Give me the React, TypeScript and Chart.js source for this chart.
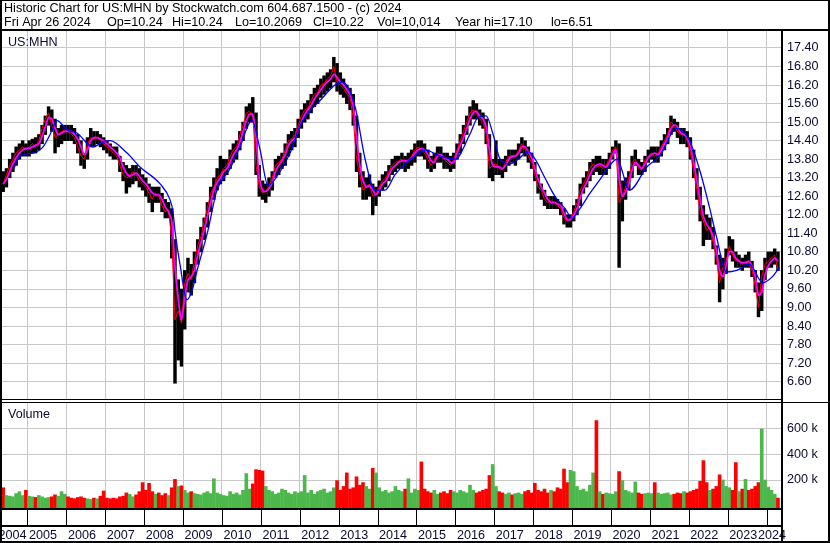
import React, { useEffect, useRef } from "react";
import { Chart, registerables } from "chart.js";
Chart.register(...registerables);

// ---------- data (monthly, May 2004 .. Apr 2024) ----------
const START_YEAR = 2004;
const START_MONTH = 5;

const HIGH = [
  13.4, 13.5, 13.8, 14.0, 14.2, 14.3, 14.4, 14.3,
  14.4, 14.45, 14.5, 14.6, 14.9, 15.2, 15.5, 15.4, 15.1, 14.8, 14.9, 14.9,
  14.9, 14.9, 14.8, 14.6, 14.4, 14.0, 14.5, 14.8, 14.7, 14.7, 14.6, 14.5,
  14.4, 14.3, 14.2, 14.2, 13.9, 13.7, 13.6, 13.5, 13.6, 13.6, 13.5, 13.3,
  13.2, 13.0, 12.9, 12.9, 12.9, 12.7, 12.5, 12.4, 12.2, 11.2, 9.9, 9.6,
  10.2, 10.6, 10.4, 10.8, 11.2, 11.6, 11.9, 12.4, 12.9, 13.2, 13.5, 13.9,
  13.8, 13.8, 14.1, 14.3, 14.4, 14.7, 15.0, 15.5, 15.6, 15.8, 15.3, 13.6,
  13.1, 13.0, 13.2, 13.4, 13.8, 13.9, 14.0, 14.3, 14.6, 14.7, 14.8, 15.1,
  15.4, 15.6, 15.7, 15.9, 16.1, 16.2, 16.4, 16.5, 16.6, 16.7, 17.1, 16.9,
  16.6, 16.4, 16.2, 16.1, 15.9, 15.2, 14.0, 13.4, 13.2, 13.3, 13.0, 12.9,
  13.1, 13.3, 13.4, 13.6, 13.8, 13.9, 13.9, 14.0, 13.9, 14.0, 14.1, 14.3,
  14.4, 14.4, 14.3, 14.1, 13.9, 14.0, 14.2, 14.2, 14.0, 14.0, 13.9, 14.0,
  14.3, 14.6, 14.9, 15.2, 15.5, 15.7, 15.6, 15.4, 15.3, 15.1, 14.6, 13.8,
  14.4, 13.8, 13.8, 13.9, 14.1, 14.1, 14.1, 14.3, 14.5, 14.4, 14.2, 14.0,
  13.7, 13.3, 13.0, 12.8, 12.6, 12.6, 12.6, 12.5, 12.4, 12.2, 12.0, 12.0,
  12.3, 12.5, 13.0, 13.2, 13.4, 13.7, 13.8, 13.9, 13.9, 13.8, 13.8, 14.0,
  14.2, 14.4, 14.3, 13.1, 13.2, 13.4, 13.9, 14.1, 13.8, 13.7, 13.9, 14.1,
  14.2, 14.2, 14.2, 14.4, 14.6, 14.8, 15.2, 15.1, 15.0, 14.8, 14.8, 14.7,
  14.5, 14.1, 13.5, 12.9, 12.3, 12.0, 11.9, 11.6, 11.0, 10.7, 10.6, 10.9,
  11.3, 11.2, 10.8, 10.7, 10.6, 10.7, 10.8, 10.5, 10.2, 9.8, 10.2, 10.6,
  10.8, 10.8, 10.9, 10.8,
];

const LOW = [
  12.75, 12.9, 13.2, 13.4, 13.6, 13.8, 13.9, 13.9,
  13.9, 14.0, 14.0, 14.1, 14.3, 14.6, 14.9, 14.7, 14.0, 14.2, 14.3, 14.4,
  14.4, 14.4, 14.3, 14.0, 13.6, 13.5, 13.8, 14.2, 14.2, 14.3, 14.2, 14.1,
  14.0, 13.9, 13.8, 13.8, 13.4, 13.1, 12.7, 12.9, 13.0, 13.1, 12.9, 12.8,
  12.6, 12.4, 12.1, 12.4, 12.4, 12.1, 11.9, 11.9, 10.6, 6.55, 7.3, 7.1,
  8.3, 9.5, 9.4, 9.8, 10.4, 10.8, 11.2, 11.6, 12.1, 12.5, 12.8, 13.0,
  13.1, 13.3, 13.5, 13.7, 13.8, 14.1, 14.4, 14.8, 15.0, 15.0, 13.3, 12.6,
  12.5, 12.4, 12.6, 12.8, 13.2, 13.3, 13.5, 13.6, 13.9, 14.1, 14.2, 14.5,
  14.8, 15.0, 15.1, 15.3, 15.5, 15.6, 15.8, 15.9, 16.0, 16.1, 16.3, 16.0,
  15.9, 15.8, 15.6, 15.4, 14.9, 13.4, 12.9, 12.5, 12.5, 12.6, 12.0, 12.3,
  12.6, 12.8, 12.9, 13.1, 13.3, 13.4, 13.5, 13.5, 13.4, 13.5, 13.6, 13.7,
  13.9, 13.9, 13.8, 13.5, 13.4, 13.5, 13.7, 13.7, 13.5, 13.5, 13.4, 13.5,
  13.8, 14.0, 14.3, 14.6, 14.9, 15.1, 15.1, 14.9, 14.8, 14.3, 13.2, 13.1,
  13.3, 13.3, 13.2, 13.4, 13.6, 13.7, 13.6, 13.8, 14.0, 13.9, 13.7, 13.5,
  13.1, 12.7, 12.5, 12.3, 12.2, 12.2, 12.2, 12.2, 12.0, 11.7, 11.6, 11.6,
  11.8, 12.0, 12.3, 12.7, 12.9, 13.1, 13.3, 13.4, 13.3, 13.3, 13.3, 13.5,
  13.8, 14.0, 10.3, 11.8, 12.5, 12.8, 13.2, 13.6, 13.3, 13.3, 13.4, 13.7,
  13.8, 13.7, 13.7, 13.9, 14.1, 14.3, 14.6, 14.7, 14.5, 14.3, 14.3, 14.2,
  13.8, 13.2, 12.5, 11.8, 11.0, 11.2, 11.2, 10.9, 10.4, 9.18, 9.6, 10.1,
  10.7, 10.5, 10.3, 10.3, 10.2, 10.3, 10.3, 10.0, 9.5, 8.7, 8.9, 9.9,
  10.3, 10.3, 10.4, 10.2,
];

const CLOSE = [
  13.0, 13.3, 13.6, 13.8, 14.0, 14.1, 14.2, 14.1,
  14.2, 14.3, 14.2, 14.4, 14.8, 15.1, 15.3, 14.9, 14.5, 14.6, 14.7, 14.75,
  14.7, 14.6, 14.5, 14.2, 13.9, 13.8, 14.3, 14.5, 14.45, 14.5, 14.4, 14.3,
  14.2, 14.1, 14.0, 13.9, 13.6, 13.3, 13.2, 13.25, 13.4, 13.3, 13.1, 13.0,
  12.9, 12.7, 12.5, 12.7, 12.6, 12.3, 12.1, 12.15, 11.2, 8.6, 8.9, 8.5,
  9.8, 10.1, 9.9, 10.5, 11.0, 11.3, 11.8, 12.2, 12.7, 12.9, 13.2, 13.3,
  13.5, 13.6, 13.9, 14.1, 14.2, 14.6, 14.9, 15.3, 15.35, 15.2, 13.6, 12.9,
  12.7, 12.8, 12.9, 13.2, 13.6, 13.7, 13.8, 14.1, 14.4, 14.45, 14.6, 14.9,
  15.2, 15.4, 15.45, 15.7, 15.9, 15.95, 16.2, 16.25, 16.4, 16.5, 16.8, 16.3,
  16.2, 16.1, 15.9, 15.8, 15.1, 13.8, 13.3, 12.8, 12.9, 13.0, 12.6, 12.65,
  12.9, 13.1, 13.2, 13.4, 13.6, 13.7, 13.75, 13.8, 13.7, 13.8, 13.9, 14.1,
  14.2, 14.1, 14.0, 13.8, 13.6, 13.8, 14.0, 13.9, 13.8, 13.7, 13.6, 13.8,
  14.1, 14.4, 14.7, 15.0, 15.3, 15.4, 15.3, 15.1, 15.0, 14.6, 13.5, 13.6,
  13.65, 13.5, 13.45, 13.7, 13.9, 13.85, 13.9, 14.1, 14.3, 14.1, 13.9, 13.7,
  13.3, 12.9, 12.8, 12.5, 12.4, 12.45, 12.4, 12.3, 12.2, 11.9, 11.8, 11.9,
  12.1, 12.4, 12.8, 13.0, 13.2, 13.5, 13.65, 13.55, 13.6, 13.5, 13.6, 13.8,
  14.1, 14.2, 12.4, 12.6, 12.9, 13.2, 13.7, 13.8, 13.5, 13.45, 13.8, 13.9,
  14.0, 13.9, 14.0, 14.2, 14.4, 14.6, 15.0, 14.9, 14.7, 14.6, 14.65, 14.4,
  14.0, 13.4, 12.8, 12.1, 11.8, 11.5, 11.6, 11.1, 10.6, 9.8, 10.3, 10.5,
  11.0, 10.7, 10.5, 10.55, 10.4, 10.5, 10.45, 10.2, 9.7, 9.0, 10.0, 10.4,
  10.5, 10.6, 10.7, 10.22,
];

const MA_FAST = [
  13.0, 13.15, 13.4, 13.65, 13.85, 14.0, 14.1, 14.15,
  14.15, 14.2, 14.25, 14.3, 14.55, 14.85, 15.15, 15.1, 14.8, 14.6, 14.65, 14.7,
  14.7, 14.7, 14.6, 14.45, 14.2, 13.95, 14.1, 14.4, 14.5, 14.5, 14.45, 14.4,
  14.3, 14.2, 14.1, 14.0, 13.85, 13.55, 13.35, 13.25, 13.3, 13.35, 13.25, 13.1,
  13.0, 12.85, 12.7, 12.65, 12.65, 12.5, 12.25, 12.1, 11.8, 10.3, 9.3, 8.6,
  9.3, 9.9, 10.0, 10.2, 10.7, 11.1, 11.5, 11.95, 12.4, 12.8, 13.05, 13.2,
  13.4, 13.5, 13.7, 13.95, 14.1, 14.35, 14.7, 15.05, 15.25, 15.25, 14.5, 13.2,
  12.8, 12.75, 12.85, 13.05, 13.4, 13.6, 13.75, 13.95, 14.25, 14.4, 14.5, 14.75,
  15.0, 15.25, 15.4, 15.55, 15.75, 15.9, 16.05, 16.2, 16.3, 16.4, 16.55, 16.45,
  16.3, 16.2, 16.05, 15.9, 15.5, 14.5, 13.6, 13.1, 12.9, 12.95, 12.8, 12.65,
  12.8, 13.0, 13.1, 13.3, 13.5, 13.6, 13.7, 13.75, 13.75, 13.75, 13.85, 14.0,
  14.1, 14.15, 14.1, 13.95, 13.75, 13.7, 13.9, 13.95, 13.85, 13.8, 13.7, 13.7,
  14.0, 14.25, 14.5, 14.8, 15.1, 15.3, 15.35, 15.2, 15.1, 14.85, 14.1, 13.6,
  13.55, 13.55, 13.5, 13.6, 13.8, 13.9, 13.9, 14.0, 14.2, 14.2, 14.05, 13.85,
  13.5, 13.15, 12.9, 12.7, 12.5, 12.4, 12.4, 12.35, 12.3, 12.05, 11.85, 11.85,
  12.0, 12.2, 12.55, 12.85, 13.05, 13.3, 13.5, 13.6, 13.65, 13.6, 13.55, 13.7,
  13.95, 14.1, 13.2, 12.6, 12.75, 13.0, 13.45, 13.7, 13.6, 13.5, 13.65, 13.85,
  13.95, 14.0, 13.95, 14.1, 14.3, 14.5, 14.8, 14.9, 14.85, 14.65, 14.6, 14.5,
  14.2, 13.7, 13.1, 12.5, 11.95, 11.7, 11.55, 11.3, 10.85, 10.2, 10.0, 10.35,
  10.8, 10.8, 10.6, 10.5, 10.45, 10.45, 10.5, 10.35, 10.0, 9.4, 9.5, 10.05,
  10.35, 10.5, 10.6, 10.5,
];

const VOLUME_K = [
  140, 80, 75, 70, 95, 110, 80, 120,
  75, 70, 65, 80, 70, 60, 65, 70, 85, 75, 110, 90,
  70, 60, 55, 65, 70, 60, 55, 50, 60, 55, 75, 115,
  60, 55, 60, 55, 70, 75, 100, 90, 70, 85, 110, 180,
  120, 175, 110, 90, 100, 80, 95, 80, 140, 205, 150, 155,
  120, 100, 110, 95, 90, 85, 100, 110, 95, 210, 100, 90,
  80, 75, 110, 90, 100, 85, 120, 250, 130, 170, 280, 275,
  270, 150, 120, 110, 90, 100, 130, 120, 100, 90, 110, 100,
  110, 235, 100, 120, 90, 110, 120, 130, 100, 110, 140, 195,
  120, 150, 255, 130, 140, 225, 160, 180, 150, 130, 290, 255,
  140, 110, 120, 100, 110, 150, 120, 110, 130, 210, 100, 130,
  120, 340, 130, 110, 100, 120, 90, 100, 110, 95, 120, 110,
  100, 120, 110, 100, 160, 120, 100, 110, 120, 130, 235, 320,
  150, 110, 100, 90, 100, 85, 95, 100, 90, 110, 120, 100,
  175, 120, 110, 130, 100, 120, 110, 140, 130, 285, 180, 275,
  265, 150, 120, 130, 110, 160, 255, 660, 110, 90, 100, 95,
  90, 110, 265, 195, 120, 110, 100, 185, 100, 90, 95, 100,
  95, 180, 100, 90, 95, 100, 85, 90, 100, 95, 110, 100,
  110, 120, 130, 190, 350, 180, 120, 130, 150, 240, 200, 150,
  140, 120, 335, 110, 130, 205, 120, 130, 150, 180, 595, 200,
  145, 120, 90, 60,
];

// slow moving average (blue): time (decimal year) / value
const BLUE_T = [
  2004.63, 2004.81, 2005.14, 2005.4, 2005.58, 2005.76, 2006.02, 2006.27, 2006.68, 2006.94,
  2007.12, 2007.56, 2007.89, 2008.41, 2008.66, 2008.74, 2008.79, 2008.92, 2009.1, 2009.23,
  2009.36, 2009.64, 2009.87, 2010.21, 2010.46, 2010.77, 2010.98, 2011.18, 2011.49, 2011.75,
  2012.01, 2012.52, 2013.09, 2013.42, 2013.68, 2013.93, 2014.19, 2014.45, 2014.7, 2014.96,
  2015.22, 2015.6, 2015.99, 2016.37, 2016.58, 2016.79, 2016.97, 2017.15, 2017.4, 2017.66,
  2017.87, 2018.05, 2018.3, 2018.56, 2018.82, 2019.0, 2019.2, 2019.46, 2019.72, 2019.97,
  2020.15, 2020.48, 2020.92, 2021.25, 2021.69, 2022.02, 2022.28, 2022.53, 2022.71, 2022.97,
  2023.23, 2023.56, 2023.9, 2024.15, 2024.33,
];
const BLUE_V = [
  13.45, 13.9, 14.0, 14.2, 14.6, 15.05, 14.75, 14.65, 14.2, 14.35,
  14.4, 14.0, 13.55, 13.0, 12.5, 12.1, 11.5, 10.4, 9.25, 9.55,
  10.2, 11.5, 12.8, 13.5, 14.2, 15.05, 14.1, 12.95, 13.4, 14.0,
  14.9, 15.7, 16.3, 15.5, 13.8, 12.8, 12.8, 13.3, 13.65, 13.9,
  14.1, 13.9, 13.8, 14.6, 15.15, 15.2, 14.6, 13.8, 13.65, 13.85,
  14.05, 13.8, 13.2, 12.6, 12.2, 11.9, 12.2, 12.7, 13.15, 13.6,
  13.8, 12.8, 13.55, 13.9, 14.8, 14.4, 13.45, 12.25, 11.3, 10.15,
  10.2, 10.4, 9.8, 10.0, 10.3,
];

const PRICE_TICKS = [6.6, 7.2, 7.8, 8.4, 9.0, 9.6, 10.2, 10.8, 11.4, 12.0, 12.6, 13.2, 13.8, 14.4, 15.0, 15.6, 16.2, 16.8, 17.4];
const VOL_TICKS = [200000, 400000, 600000];
const YEAR_BOUNDS = [2005, 2006, 2007, 2008, 2009, 2010, 2011, 2012, 2013, 2014, 2015, 2016, 2017, 2018, 2019, 2020, 2021, 2022, 2023, 2024];
const YEAR_LABELS = ["2004", "2005", "2006", "2007", "2008", "2009", "2010", "2011", "2012", "2013", "2014", "2015", "2016", "2017", "2018", "2019", "2020", "2021", "2022", "2023", "2024"];

const HEADER_1 = "Historic Chart for US:MHN by Stockwatch.com 604.687.1500 - (c) 2024";
const HEADER_2 = ["Fri Apr 26 2024", "Op=10.24", "Hi=10.24", "Lo=10.2069", "Cl=10.22", "Vol=10,014", "Year hi=17.10", "lo=6.51"];
const SYMBOL = "US:MHN";
const VOL_TITLE = "Volume";

// ---------- layout / style ----------
const W = 830;
const H = 543;
const FONT = "'Liberation Sans', Arial, sans-serif";
const FS = 12.6;
const TXT = "#0a0a30";
const GRID = "#c8c8c8";
const X_MIN = 2004.3445;
const X_MAX = 2024.396;
const P_MIN = 6.008;
const P_MAX = 17.95;
const V_MIN = -16600;
const V_MAX = 819000;
const H2_X = [4, 107, 172, 235, 313, 377, 455, 551];

const MONTHS = HIGH.map((_, i) => {
  const m = START_MONTH - 1 + i;
  return START_YEAR + Math.floor(m / 12) + ((m % 12) + 0.5) / 12;
});

const framePlugin = {
  id: "stockFrame",
  beforeDraw(chart: any) {
    const ctx = chart.ctx;
    ctx.save();
    ctx.fillStyle = "#ffffff";
    ctx.fillRect(0, 0, W, H);
    ctx.restore();
  },
  afterDraw(chart: any) {
    const ctx = chart.ctx;
    const xs = chart.scales.x;
    ctx.save();
    // gap between panels (double line)
    ctx.fillStyle = "#ffffff";
    ctx.fillRect(0, 399, 782, 3);
    ctx.fillStyle = "#000000";
    ctx.fillRect(0, 399, 782, 1);
    ctx.fillRect(0, 402, W, 1);
    // x-axis area
    ctx.fillStyle = "#ffffff";
    ctx.fillRect(0, 510, 782, 31);
    ctx.fillStyle = "#000000";
    ctx.fillRect(0, 508, 782, 2);
    ctx.fillRect(0, 525, 782, 2);
    YEAR_BOUNDS.forEach((y) => {
      const px = Math.round(xs.getPixelForValue(y));
      ctx.fillRect(px, 510, 1, 15);
    });
    ctx.font = `${FS}px ${FONT}`;
    ctx.fillStyle = TXT;
    ctx.textBaseline = "alphabetic";
    YEAR_LABELS.forEach((lab, i) => {
      const yr = 2004 + i;
      if (i === 0) {
        ctx.textAlign = "right";
        ctx.fillText(lab, xs.getPixelForValue(2005) - 1, 539);
      } else if (i === YEAR_LABELS.length - 1) {
        ctx.textAlign = "right";
        ctx.fillText(lab, 786, 539);
      } else {
        ctx.textAlign = "left";
        ctx.fillText(lab, xs.getPixelForValue(yr) + 1.5, 539);
      }
    });
    // panel titles
    ctx.textAlign = "left";
    ctx.fillText(SYMBOL, 8, 45.5);
    ctx.fillText(VOL_TITLE, 8, 418);
    // header
    ctx.fillStyle = "#000000";
    ctx.fillText(HEADER_1, 4, 12);
    HEADER_2.forEach((s, i) => ctx.fillText(s, H2_X[i], 25.5));
    // frame lines
    ctx.fillStyle = "#000000";
    ctx.fillRect(0, 0, W, 1);
    ctx.fillRect(0, 29, W, 2);
    ctx.fillRect(0, 0, 2, H);
    ctx.fillRect(W - 2, 0, 2, H);
    ctx.fillRect(0, H - 2, W, 2);
    ctx.fillRect(781, 29, 2, H - 29);
    ctx.restore();
  },
};

export default function App() {
  const ref = useRef<HTMLCanvasElement | null>(null);

  useEffect(() => {
    document.body.style.margin = "0";
    const canvas = ref.current;
    if (!canvas) return;

    const volColors = VOLUME_K.map((_, i) => {
      if (i === 0) return "#ff0000";
      const d = CLOSE[i] - CLOSE[i - 1];
      if (Math.abs(d) < 0.001) return "#a8a8a8";
      return d > 0 ? "#4cb84c" : "#ff0000";
    });

    const chart = new Chart(canvas, {
      type: "bar",
      data: {
        datasets: [
          {
            type: "line",
            label: "slow",
            data: BLUE_T.map((t, i) => ({ x: t, y: BLUE_V[i] })),
            borderColor: "#0000ff",
            borderWidth: 1.3,
            pointRadius: 0,
            tension: 0.4,
            cubicInterpolationMode: "monotone",
            yAxisID: "y",
            order: 1,
          } as any,
          {
            type: "line",
            label: "fast",
            data: MONTHS.map((t, i) => ({ x: t, y: MA_FAST[i] })),
            borderColor: "#ff00ff",
            borderWidth: 1.8,
            pointRadius: 0,
            tension: 0.3,
            yAxisID: "y",
            order: 2,
          } as any,
          {
            type: "line",
            label: "close",
            data: MONTHS.map((t, i) => ({ x: t, y: CLOSE[i] })),
            borderColor: "#ff0000",
            borderWidth: 1,
            pointRadius: 0,
            tension: 0,
            yAxisID: "y",
            order: 3,
          } as any,
          {
            type: "bar",
            label: "range",
            data: MONTHS.map((t, i) => ({ x: t, y: [LOW[i], HIGH[i]] })),
            backgroundColor: "#000000",
            borderWidth: 0,
            barThickness: 2.8,
            grouped: false,
            yAxisID: "y",
            order: 4,
          } as any,
          {
            type: "bar",
            label: "volume",
            data: MONTHS.map((t, i) => ({ x: t, y: VOLUME_K[i] * 1000 })),
            backgroundColor: volColors,
            borderWidth: 0,
            barThickness: 3,
            grouped: false,
            base: V_MIN,
            yAxisID: "yv",
            order: 5,
          } as any,
        ],
      },
      options: {
        responsive: false,
        maintainAspectRatio: false,
        devicePixelRatio: 1,
        animation: false,
        events: [],
        layout: { padding: { left: 2, top: 31, right: 0, bottom: 35 } },
        plugins: { legend: { display: false }, tooltip: { enabled: false }, title: { display: false } },
        scales: {
          x: {
            type: "linear",
            min: X_MIN,
            max: X_MAX,
            offset: false,
            afterBuildTicks: (s: any) => {
              s.ticks = YEAR_BOUNDS.map((v) => ({ value: v }));
            },
            ticks: { display: false },
            grid: { color: GRID, lineWidth: 1, drawTicks: false, offset: false },
            border: { display: false },
          },
          y: {
            type: "linear",
            position: "right",
            stack: "panels",
            stackWeight: 369,
            min: P_MIN,
            max: P_MAX,
            afterBuildTicks: (s: any) => {
              s.ticks = PRICE_TICKS.map((v) => ({ value: v }));
            },
            afterFit: (s: any) => {
              s.width = 48;
            },
            ticks: {
              autoSkip: false,
              padding: 5,
              color: TXT,
              font: { family: FONT, size: FS },
              callback: (v: any) => Number(v).toFixed(2),
            },
            grid: { color: GRID, lineWidth: 1, drawTicks: false },
            border: { display: false },
          },
          yv: {
            type: "linear",
            position: "right",
            stack: "panels",
            stackWeight: 108,
            min: V_MIN,
            max: V_MAX,
            afterBuildTicks: (s: any) => {
              s.ticks = VOL_TICKS.map((v) => ({ value: v }));
            },
            afterFit: (s: any) => {
              s.width = 48;
            },
            ticks: {
              autoSkip: false,
              padding: 5,
              color: TXT,
              font: { family: FONT, size: FS },
              callback: (v: any) => `${Math.round(Number(v) / 1000)} k`,
            },
            grid: { color: GRID, lineWidth: 1, drawTicks: false },
            border: { display: false },
          },
        },
      } as any,
      plugins: [framePlugin],
    });

    return () => chart.destroy();
  }, []);

  return (
    <div style={{ width: W, height: H }}>
      <canvas ref={ref} width={W} height={H} style={{ display: "block", width: W, height: H }} />
    </div>
  );
}
